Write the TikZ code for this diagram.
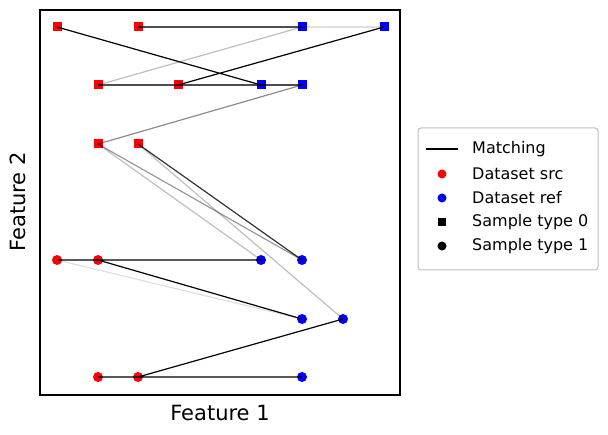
\documentclass[tikz,border=0pt]{standalone}
\usepackage{fontspec}
\setmainfont{DejaVu Sans}
\tikzset{
x=1pt, y=-1pt, % pixel units, y downwards
src/.style={fill=red, inner sep=0pt},
ref/.style={fill=blue, inner sep=0pt},
sq/.style={rectangle, minimum size=9pt},
ci/.style={circle, minimum size=10pt},
match/.style={line width=1.2pt, draw=black},
}
\begin{document}
\begin{tikzpicture}
    \useasboundingbox (0,0) rectangle (608,435);
    \draw[line width=1.1pt] (40,10) rectangle (400,395);

    % source points
    \node[src, sq] (s1) at (57,27) {};
    \node[src, sq] (s2) at (138,27) {};
    \node[src, sq] (s3) at (98,85) {};
    \node[src, sq] (s4) at (178,85) {};
    \node[src, sq] (s5) at (98,144) {};
    \node[src, sq] (s6) at (138,144) {};
    \node[src, ci] (s7) at (57,260) {};
    \node[src, ci] (s8) at (98,260) {};
    \node[src, ci] (s9) at (98,377) {};
    \node[src, ci] (s10) at (138,377) {};

    % reference points
    \node[ref, sq] (r1) at (302,27) {};
    \node[ref, sq] (r2) at (384,27) {};
    \node[ref, sq] (r3) at (261,85) {};
    \node[ref, sq] (r4) at (302,85) {};
    \node[ref, ci] (r5) at (261,260) {};
    \node[ref, ci] (r6) at (302,260) {};
    \node[ref, ci] (r7) at (302,319) {};
    \node[ref, ci] (r8) at (343,319) {};
    \node[ref, ci] (r9) at (302,377) {};

    % matchings
    \draw[match, draw opacity=0.12] (s2.center) -- (r2.center);
    \draw[match, draw opacity=0.12] (s7.center) -- (r7.center);
    \draw[match, draw opacity=0.25] (s3.center) -- (r1.center);
    \draw[match, draw opacity=0.25] (s5.center) -- (r5.center);
    \draw[match, draw opacity=0.25] (s6.center) -- (r8.center);
    \draw[match, draw opacity=0.4] (s5.center) -- (r6.center);
    \draw[match, draw opacity=0.45] (s5.center) -- (r4.center);
    \draw[match, draw opacity=0.7] (s3.center) -- (r4.center);
    \draw[match, draw opacity=0.8] (s6.center) -- (r6.center);
    \draw[match] (s1.center) -- (r3.center)
                 (s2.center) -- (r1.center)
                 (s4.center) -- (r2.center)
                 (s7.center) -- (r5.center)
                 (s8.center) -- (r7.center)
                 (s10.center) -- (r8.center)
                 (s9.center) -- (r9.center);

    % axis labels
    \node[font=\fontsize{21}{24}\selectfont] (xl) at (220,413) {Feature 1};
    \node[font=\fontsize{21}{24}\selectfont, rotate=90] (yl) at (18,202) {Feature 2};

    % legend
    \draw[draw=black!25, line width=1pt, rounded corners=3pt] (418,128) rectangle (598,270);
    \coordinate (la) at (426,149);
    \coordinate (lb) at (458,149);
    \draw[match] (la) -- (lb);
    \node[src, ci, minimum size=9pt] (l1) at (442,174) {};
    \node[ref, ci, minimum size=9pt] (l2) at (442,198) {};
    \node[fill=black, sq, inner sep=0pt, minimum size=8pt] (l3) at (442,222) {};
    \node[fill=black, ci, inner sep=0pt, minimum size=9pt] (l4) at (442,246) {};
    \foreach \yy/\txt in {149/Matching, 174/Dataset src, 198/Dataset ref, 222/Sample type 0, 246/Sample type 1}
        \node[anchor=west, font=\fontsize{16}{18}\selectfont, inner sep=0pt] at (472,\yy) {\txt};
\end{tikzpicture}
\end{document}
